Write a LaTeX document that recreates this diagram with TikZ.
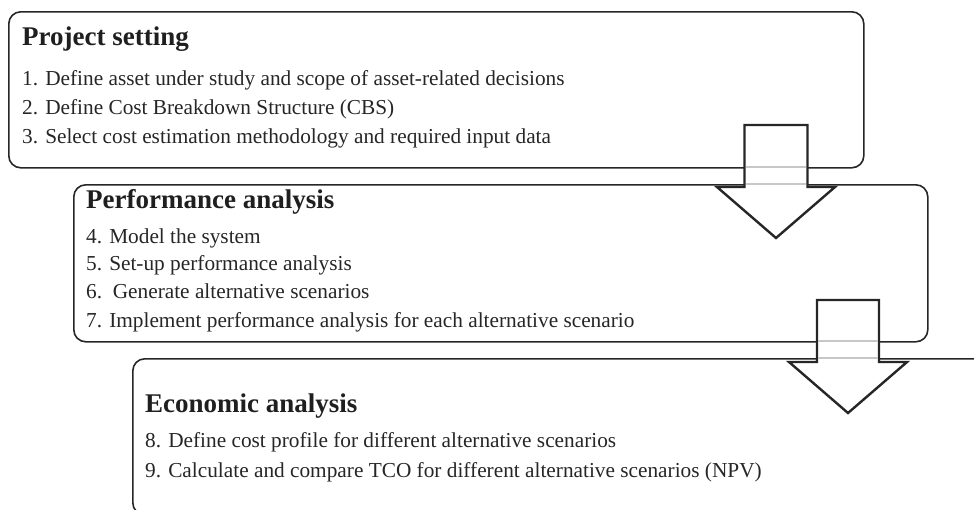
\documentclass[tikz,border=0pt]{standalone}
\usepackage{fontspec}
\setmainfont{Liberation Serif}
\begin{document}
\begin{tikzpicture}[x=1pt,y=-1pt,
  box/.style={draw=black!85, line width=1.6pt, rounded corners=12pt, inner sep=0pt, anchor=north west},
  blockarrow/.style={draw=black!85, line width=2.4pt, fill=white, line join=miter},
  ghost/.style={draw=black!22, line width=1.6pt},
  ttl/.style={anchor=base west, inner sep=0pt, font=\fontsize{27}{30}\selectfont\bfseries, text=black!88},
  item/.style={anchor=base west, inner sep=0pt, font=\fontsize{21.3}{24}\selectfont, text=black!85}]
\useasboundingbox (0,0) rectangle (974,509);
\clip (0,0) rectangle (974,509);

% boxes
\node[box, minimum width=855pt, minimum height=156pt] (b1) at (8,11) {};
\node[box, minimum width=854pt, minimum height=157pt] (b2) at (73,184) {};
\node[box, minimum width=900pt, minimum height=156pt] (b3) at (132,358) {};

% box 1 text
\node[ttl]  (t1) at (22,45)  {Project setting};
\node[item] (i1) at (22,85)  {1. Define asset under study and scope of asset-related decisions};
\node[item] (i2) at (22,114) {2. Define Cost Breakdown Structure (CBS)};
\node[item] (i3) at (22,143) {3. Select cost estimation methodology and required input data};

% box 2 text
\node[ttl]  (t2) at (86,208) {Performance analysis};
\node[item] (i4) at (86,243) {4. Model the system};
\node[item] (i5) at (86,270) {5. Set-up performance analysis};
\node[item] (i6) at (86,298) {6.\ \ Generate alternative scenarios};
\node[item] (i7) at (86,327) {7. Implement performance analysis for each alternative scenario};

% box 3 text
\node[ttl]  (t3) at (145,412) {Economic analysis};
\node[item] (i8) at (145,447) {8. Define cost profile for different alternative scenarios};
\node[item] (i9) at (145,477) {9. Calculate and compare TCO for different alternative scenarios (NPV)};

% block arrows
\draw[blockarrow] (744.5,125) -- (807.5,125) -- (807.5,187) -- (835,187) -- (776,238)
  -- (717,187) -- (744.5,187) -- cycle;
\draw[ghost] (745.7,167) -- (806.3,167);
\draw[ghost] (745.7,184) -- (806.3,184);

\draw[blockarrow] (817,300) -- (879,300) -- (879,362) -- (907,362) -- (848,413)
  -- (789,362) -- (817,362) -- cycle;
\draw[ghost] (818.2,341) -- (877.8,341);
\draw[ghost] (818.2,358) -- (877.8,358);
\end{tikzpicture}
\end{document}
